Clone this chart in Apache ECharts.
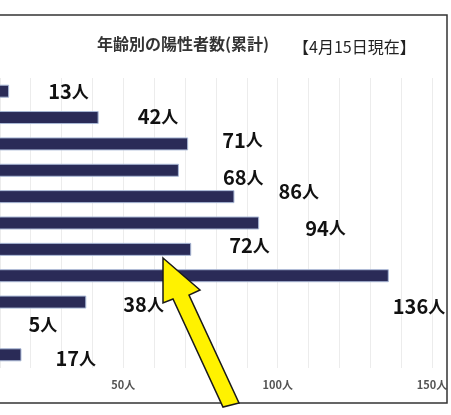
<!DOCTYPE html>
<html>
<head>
<meta charset="utf-8">
<script src="https://cdn.jsdelivr.net/npm/echarts@6/dist/echarts.min.js"></script>
<style>
  html, body { margin: 0; padding: 0; background: #fff; overflow: hidden; }
  #wrap { position: relative; width: 451px; height: 415px; overflow: hidden; }
  /* the source picture is cropped on the left, so the chart starts off-screen */
  #main { position: absolute; left: -40px; top: 0; width: 491px; height: 415px; }
</style>
</head>
<body>
<div id="wrap"><div id="main"></div></div>
<script>
// 年齢別の陽性者数（累計） 4月15日現在
var ageGroups = ['10歳未満', '10代', '20代', '30代', '40代', '50代', '60代', '70代', '80代', '90代', '100歳以上'];
var cases = [13, 42, 71, 68, 86, 94, 72, 136, 38, 5, 17];
var tickValues = [50, 100, 150];

// label offsets [dx, dy] from bar end (layout only)
var labelShift = [[39, 0], [39, -1], [34, -4], [44, 7], [44, -5], [46, 5], [38, -4], [4, 31], [37, 2], [44, -4], [34, 4]];

var shiftX = 40; // how far the canvas hangs off the left edge

var myChart = echarts.init(document.getElementById('main'));

var barData = cases.map(function (v, i) {
    return {
        value: v,
        label: { offset: labelShift[i] }
    };
});

var option = {
    backgroundColor: '#fff',
    animation: false,
    grid: { left: 9, right: 19, top: 78, bottom: 47, containLabel: false },
    xAxis: {
        type: 'value',
        min: 0,
        max: 150,
        interval: 10,
        axisLine: { show: false },
        axisTick: { show: false },
        splitLine: { lineStyle: { color: '#ececec', width: 1 } },
        axisLabel: {
            margin: 11,
            color: '#555',
            fontSize: 11,
            fontWeight: 'bold',
            fontFamily: 'Noto Sans CJK JP',
            formatter: function (v) {
                return tickValues.indexOf(v) >= 0 ? v + '人' : '';
            }
        }
    },
    yAxis: {
        type: 'category',
        data: ageGroups,
        inverse: true,
        axisLine: { show: false },
        axisTick: { show: false },
        axisLabel: { show: false }
    },
    series: [{
        type: 'bar',
        data: barData,
        barWidth: 13,
        itemStyle: { color: '#2a2b57', borderColor: '#a9b8d6', borderWidth: 1 },
        label: {
            show: true,
            position: 'right',
            distance: 0,
            formatter: '{n|{c}}{u|人}',
            rich: {
                n: {
                    color: '#111',
                    fontSize: 20,
                    fontWeight: 'bold',
                    fontFamily: 'Noto Sans CJK JP'
                },
                u: {
                    color: '#111',
                    fontSize: 17,
                    fontWeight: 'bold',
                    fontFamily: 'Noto Sans CJK JP'
                }
            }
        }
    }],
    graphic: [{
        type: 'group',
        x: shiftX,
        y: 0,
        children: [
            {
                type: 'rect',
                shape: { x: -5, y: 15, width: 452, height: 388 },
                style: { fill: null, stroke: '#333', lineWidth: 1.5 },
                z: 10
            },
            {
                type: 'text',
                x: 97,
                y: 36,
                style: {
                    text: '年齢別の陽性者数(累計)',
                    fill: '#333',
                    fontSize: 16,
                    fontWeight: 'bold',
                    fontFamily: 'Noto Sans CJK JP'
                }
            },
            {
                type: 'text',
                x: 293,
                y: 39,
                style: {
                    text: '【4月15日現在】',
                    fill: '#222',
                    fontSize: 16,
                    fontFamily: 'Noto Sans CJK JP'
                }
            },
            {
                type: 'polygon',
                shape: {
                    points: [[163, 258], [200, 290], [189, 295], [239, 403], [223, 407], [173, 299], [163, 303]]
                },
                style: { fill: '#fff200', stroke: '#1a1a1a', lineWidth: 1.5 },
                z: 20
            }
        ]
    }]
};

myChart.setOption(option);

window.addEventListener('resize', function () {
    myChart.resize();
});
</script>
</body>
</html>
